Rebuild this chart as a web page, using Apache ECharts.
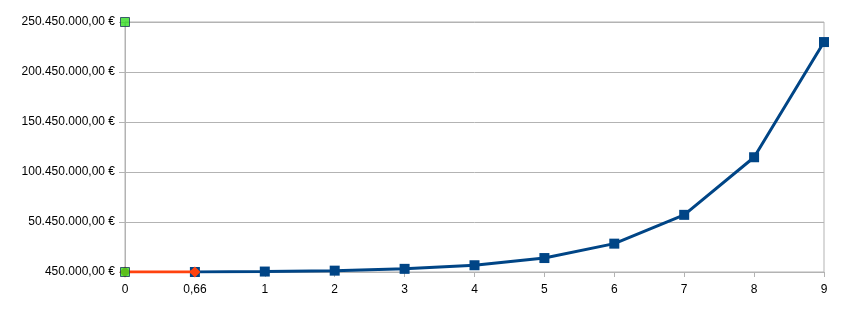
<!DOCTYPE html>
<html>
<head>
<meta charset="utf-8">
<script src="https://cdn.jsdelivr.net/npm/echarts@6/dist/echarts.min.js"></script>
<style>
html,body{margin:0;padding:0;background:#fff;}
#chart{width:845px;height:309px;}
</style>
</head>
<body>
<div id="chart"></div>
<script>
var categories = ['0', '0,66', '1', '2', '3', '4', '5', '6', '7', '8', '9'];
var blueValues = [null, 450000, 900000, 1800000, 3600000, 7200000, 14400000, 28800000, 57600000, 115200000, 230400000];
var redValues = [450000, 450000, null, null, null, null, null, null, null, null, null];
var greenPoints = [[0, 450000], [0, 250450000]];
var yMin = 450000, yMax = 250450000, yStep = 50000000;

function fmtEuro(v) {
  var s = Math.round(v).toString();
  var out = '';
  while (s.length > 3) { out = '.' + s.slice(-3) + out; s = s.slice(0, -3); }
  return s + out + ',00 €';
}

var chart = echarts.init(document.getElementById('chart'), null, {renderer: 'canvas'});
chart.setOption({
  animation: false,
  backgroundColor: '#ffffff',
  textStyle: {fontFamily: 'Liberation Sans, Arial, sans-serif'},
  grid: {left: 125, right: 21, top: 22, bottom: 37, show: true, borderColor: '#b3b3b3', borderWidth: 1},
  xAxis: {
    type: 'category',
    data: categories,
    boundaryGap: false,
    axisLine: {lineStyle: {color: '#b3b3b3', width: 1}},
    axisTick: {show: true, length: 5, lineStyle: {color: '#b3b3b3'}},
    axisLabel: {color: '#000', fontSize: 12, margin: 12, fontFamily: 'Liberation Sans, Arial, sans-serif'},
    splitLine: {show: false}
  },
  yAxis: {
    type: 'value',
    min: yMin, max: yMax, interval: yStep,
    axisLine: {show: true, lineStyle: {color: '#b3b3b3', width: 1}},
    axisTick: {show: true, length: 6, lineStyle: {color: '#b3b3b3'}},
    axisLabel: {color: '#000', fontSize: 12, margin: 10, formatter: fmtEuro, fontFamily: 'Liberation Sans, Arial, sans-serif'},
    splitLine: {show: true, lineStyle: {color: '#b3b3b3', width: 1}}
  },
  series: [
    {
      type: 'line', data: blueValues, z: 2,
      symbol: 'rect', symbolSize: 10, showAllSymbol: true,
      lineStyle: {color: '#004586', width: 3},
      itemStyle: {color: '#004586'}
    },
    {
      type: 'line', data: redValues, z: 3,
      symbol: 'diamond', symbolSize: 11, showAllSymbol: true,
      lineStyle: {color: '#ff420e', width: 3},
      itemStyle: {color: '#ff420e'}
    },
    {
      type: 'scatter', data: greenPoints, z: 4,
      symbol: 'rect', symbolSize: 9,
      itemStyle: {color: '#33dd22', borderColor: '#1c3a5a', borderWidth: 1}
    }
  ]
});
</script>
</body>
</html>
